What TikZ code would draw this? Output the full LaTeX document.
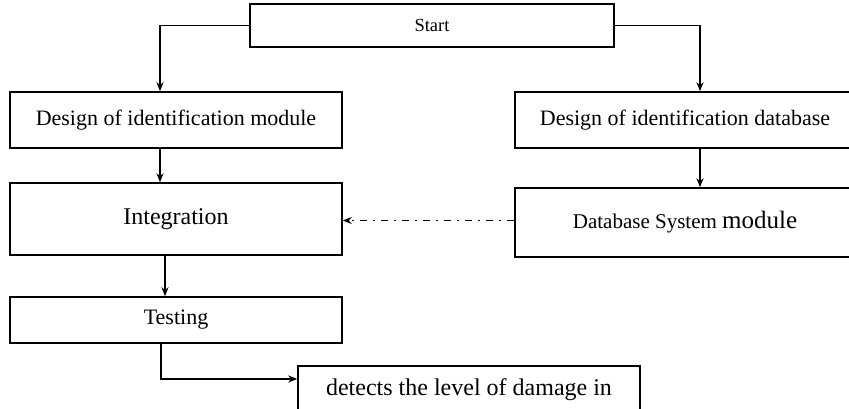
\documentclass[tikz,border=0pt]{standalone}
\usepackage{fontspec}
\setmainfont{Liberation Serif}
\usetikzlibrary{arrows.meta}
\begin{document}
\begin{tikzpicture}[
                    x=1pt, y=-1pt,
                    box/.style={draw, line width=1.5pt, inner sep=0pt, align=center},
                    fs/.style={font=\fontsize{#1}{#1}\selectfont},
                    arr/.style={line width=1.5pt, -{Stealth[length=9pt, width=7pt]}},
                    dashdot/.style={arr, dash pattern=on 7pt off 6pt on 2pt off 6pt}
                ]

                % page
                \useasboundingbox (0,0) rectangle (849,408);
                \clip (0,0) rectangle (849,408);

                % top
                \node[box, fs=18.5, minimum width=364pt, minimum height=43pt] (start) at (432,25.5) {Start};

                % left column
                \node[box, fs=22, minimum width=332pt, minimum height=56pt] (dmod) at (176,120) {Design of identification module};
                \node[box, fs=24, minimum width=332pt, minimum height=72pt] (integ) at (176,219) {\raisebox{5pt}{Integration}};
                \node[box, fs=22, minimum width=332pt, minimum height=46pt] (testing) at (176,320) {Testing};

                % right column
                \node[box, fs=22, minimum width=340pt, minimum height=56pt] (ddb) at (685,120) {Design of identification database};
                \node[box, fs=21, minimum width=340pt, minimum height=69pt] (dbsys) at (685,222.5) {Database System {\fontsize{25}{25}\selectfont module}};

                % result
                \node[box, fs=24, minimum width=342pt, minimum height=48pt] (detects) at (469,390) {detects the level of damage in};

                % flow
                \draw[arr] (start.west) -| ([xshift=-16pt]dmod.north);
                \draw[arr] (start.east) -| ([xshift=15pt]ddb.north);
                \draw[arr] ([xshift=-16pt]dmod.south) -- ([xshift=-16pt]integ.north);
                \draw[arr] ([xshift=15pt]ddb.south) -- ([xshift=15pt]dbsys.north);
                \draw[arr] ([xshift=-11pt]integ.south) -- ([xshift=-11pt]testing.north);
                \draw[arr] ([xshift=-15pt]testing.south) |- ([yshift=11pt]detects.west);
                \draw[dashdot] ([yshift=2pt]dbsys.west) -- ([yshift=2pt]dbsys.west -| integ.east);

            \end{tikzpicture}
\end{document}
